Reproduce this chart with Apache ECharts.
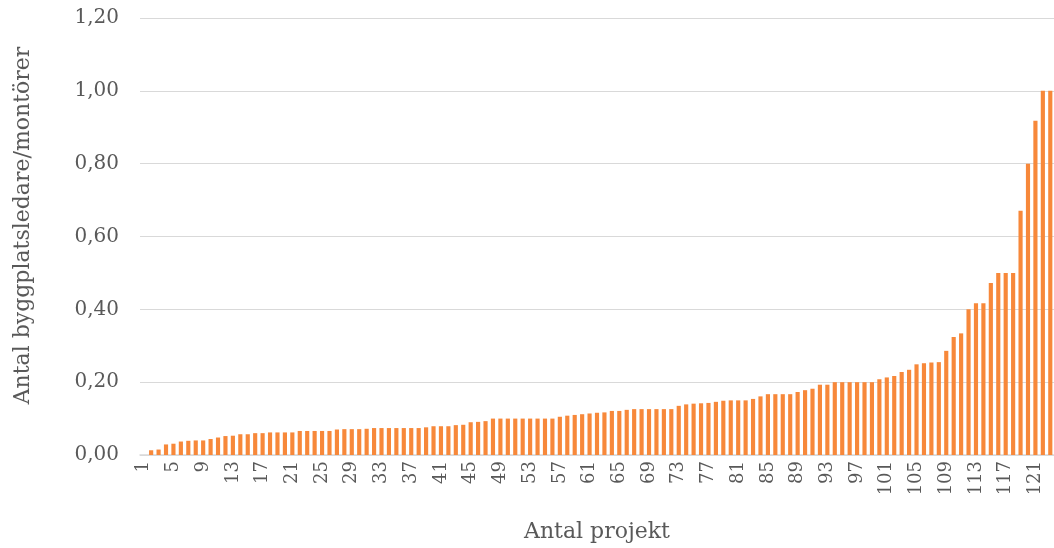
<!DOCTYPE html>
<html>
<head>
<meta charset="utf-8">
<script src="https://cdn.jsdelivr.net/npm/echarts@6/dist/echarts.min.js"></script>
<style>
  html, body { margin: 0; padding: 0; background: #ffffff; }
  #chart { width: 1054px; height: 548px; }
</style>
</head>
<body>
<div id="chart"></div>
<script>
// Projects ranked by ratio of site managers to installers
const projectCount = 123;
const categories = Array.from({ length: projectCount }, (_, i) => String(i + 1));

const ratios = [
  0.000, 0.013, 0.015, 0.029, 0.031, 0.037, 0.039, 0.040, 0.040, 0.044,
  0.048, 0.052, 0.053, 0.057, 0.057, 0.060, 0.060, 0.062, 0.062, 0.062,
  0.062, 0.066, 0.066, 0.066, 0.066, 0.066, 0.070, 0.071, 0.071, 0.071,
  0.072, 0.074, 0.074, 0.074, 0.074, 0.074, 0.074, 0.074, 0.076, 0.079,
  0.079, 0.079, 0.082, 0.083, 0.090, 0.091, 0.093, 0.100, 0.100, 0.100,
  0.100, 0.100, 0.100, 0.100, 0.100, 0.100, 0.105, 0.108, 0.110, 0.112,
  0.114, 0.116, 0.117, 0.121, 0.121, 0.124, 0.126, 0.126, 0.126, 0.126,
  0.126, 0.126, 0.135, 0.139, 0.141, 0.142, 0.143, 0.146, 0.149, 0.150,
  0.150, 0.150, 0.154, 0.161, 0.167, 0.167, 0.167, 0.167, 0.173, 0.178,
  0.182, 0.193, 0.193, 0.200, 0.200, 0.200, 0.200, 0.200, 0.200, 0.208,
  0.213, 0.217, 0.228, 0.234, 0.249, 0.252, 0.254, 0.255, 0.286, 0.324,
  0.334, 0.400, 0.417, 0.417, 0.472, 0.500, 0.500, 0.500, 0.671, 0.800,
  0.918, 1.000, 1.000
];

const yTicks = { min: 0, max: 1.2, step: 0.2 };
const xTitle = 'Antal projekt';
const yTitle = 'Antal byggplatsledare/montörer';

const textColor = '#595959';
const gridColor = '#D9D9D9';
const barColor = '#F7883A';
const fontFamily = '"DejaVu Serif", "Liberation Serif", serif';

const chart = echarts.init(document.getElementById('chart'), null, { renderer: 'canvas' });

chart.setOption({
  animation: false,
  backgroundColor: '#ffffff',
  grid: { left: 140, right: 0, top: 18, bottom: 93, containLabel: false },
  xAxis: {
    type: 'category',
    data: categories,
    name: xTitle,
    nameLocation: 'middle',
    nameGap: 66,
    nameTextStyle: { color: textColor, fontFamily: fontFamily, fontSize: 22 },
    axisLine: { show: true, lineStyle: { color: gridColor, width: 1.5 } },
    axisTick: { show: false },
    axisLabel: {
      interval: 3,
      rotate: 90,
      margin: 6,
      color: textColor,
      fontFamily: fontFamily,
      fontSize: 18
    },
    splitLine: { show: false }
  },
  yAxis: {
    type: 'value',
    min: yTicks.min,
    max: yTicks.max,
    interval: yTicks.step,
    name: yTitle,
    nameLocation: 'middle',
    nameGap: 106,
    nameRotate: 90,
    nameTextStyle: {
      color: textColor,
      fontFamily: fontFamily,
      fontSize: 22,
      padding: [0, 0, 0, 22]
    },
    axisLine: { show: false },
    axisTick: { show: false },
    axisLabel: {
      margin: 21,
      color: textColor,
      fontFamily: fontFamily,
      fontSize: 20,
      formatter: v => v.toFixed(2).replace('.', ',')
    },
    splitLine: { show: true, lineStyle: { color: gridColor, width: 1 } }
  },
  series: [{
    type: 'bar',
    data: ratios,
    barCategoryGap: '44%',
    itemStyle: { color: barColor },
    emphasis: { disabled: true }
  }]
});
</script>
</body>
</html>
